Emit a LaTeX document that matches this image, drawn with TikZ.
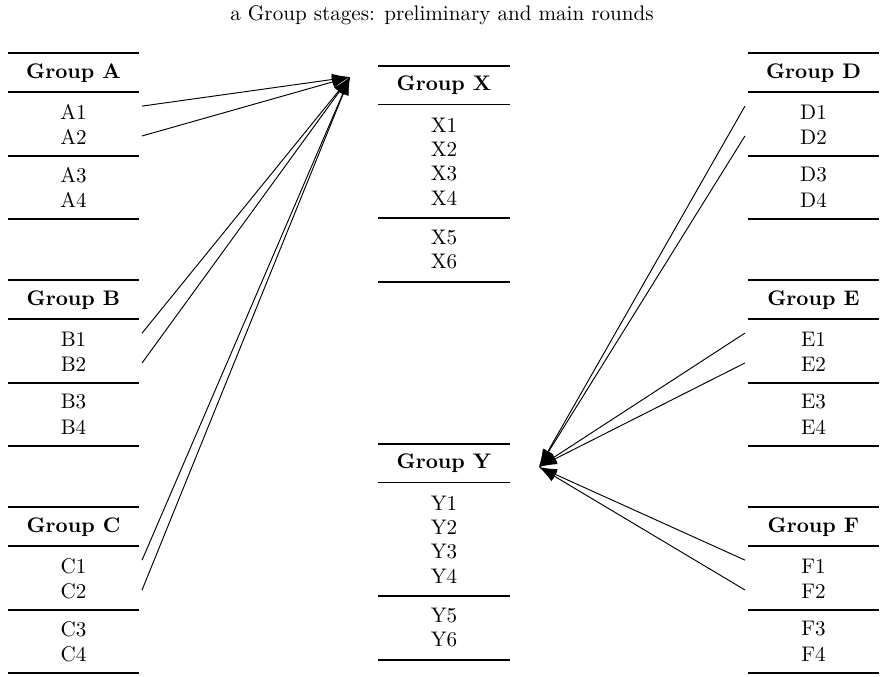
\documentclass[tikz,border=0pt]{standalone}
\usetikzlibrary{arrows.meta}
\tikzset{
  cell/.style={inner sep=0pt, outer sep=1.5pt, minimum width=62pt, anchor=center},
  hdr/.style={cell, font=\bfseries},
  heavy/.style={line width=0.8pt},
  light/.style={line width=0.5pt},
  conn/.style={line width=0.45pt, -{Latex[length=8.5pt,width=5.5pt]}},
}
\newcommand\tabfour[3]{%
  \draw[heavy] (#2,#3) -- ++(131,0);
  \node[hdr] (#1h) at ({#2+65.5},{#3+20}) {Group #1};
  \draw[light] ({#2},{#3+39}) -- ++(131,0);
  \node[cell] (#11) at ({#2+65.5},{#3+59}) {#11};
  \node[cell] (#12) at ({#2+65.5},{#3+84}) {#12};
  \draw[light] ({#2},{#3+103}) -- ++(131,0);
  \node[cell] (#13) at ({#2+65.5},{#3+122}) {#13};
  \node[cell] (#14) at ({#2+65.5},{#3+147}) {#14};
  \draw[heavy] ({#2},{#3+166}) -- ++(131,0);
}
\newcommand\tabsix[3]{%
  \draw[heavy] (#2,#3) -- ++(132,0);
  \node[hdr] (#1h) at ({#2+66},{#3+19.5}) {Group #1};
  \draw[light] ({#2},{#3+38.5}) -- ++(132,0);
  \node[cell] (#11) at ({#2+66},{#3+59.5}) {#11};
  \node[cell] (#12) at ({#2+66},{#3+83.5}) {#12};
  \node[cell] (#13) at ({#2+66},{#3+107.5}) {#13};
  \node[cell] (#14) at ({#2+66},{#3+132.5}) {#14};
  \draw[light] ({#2},{#3+152}) -- ++(132,0);
  \node[cell] (#15) at ({#2+66},{#3+171.5}) {#15};
  \node[cell] (#16) at ({#2+66},{#3+196}) {#16};
  \draw[heavy] ({#2},{#3+216}) -- ++(132,0);
}
\begin{document}
\begin{tikzpicture}[x=0.474pt,y=-0.474pt]
  \useasboundingbox (0,0) rectangle (884,676);
  \node (title) at (442,15) {a Group stages: preliminary and main rounds};
  \tabfour{A}{8}{53}
  \tabfour{B}{8}{280}
  \tabfour{C}{8}{507}
  \tabfour{D}{748}{53}
  \tabfour{E}{748}{280}
  \tabfour{F}{748}{507}
  \tabsix{X}{378}{66}
  \tabsix{Y}{378}{444}
  \coordinate (Xin) at (350,77);
  \coordinate (Yin) at (539,467);
  \foreach \g in {A,B,C}{
    \draw[conn] ([yshift=2.8pt]\g1.east) -- (Xin);
    \draw[conn] ([yshift=0.5pt]\g2.east) -- (Xin);
  }
  \foreach \g in {D,E,F}{
    \draw[conn] ([yshift=2.8pt]\g1.west) -- (Yin);
    \draw[conn] ([yshift=0.5pt]\g2.west) -- (Yin);
  }
\end{tikzpicture}
\end{document}
